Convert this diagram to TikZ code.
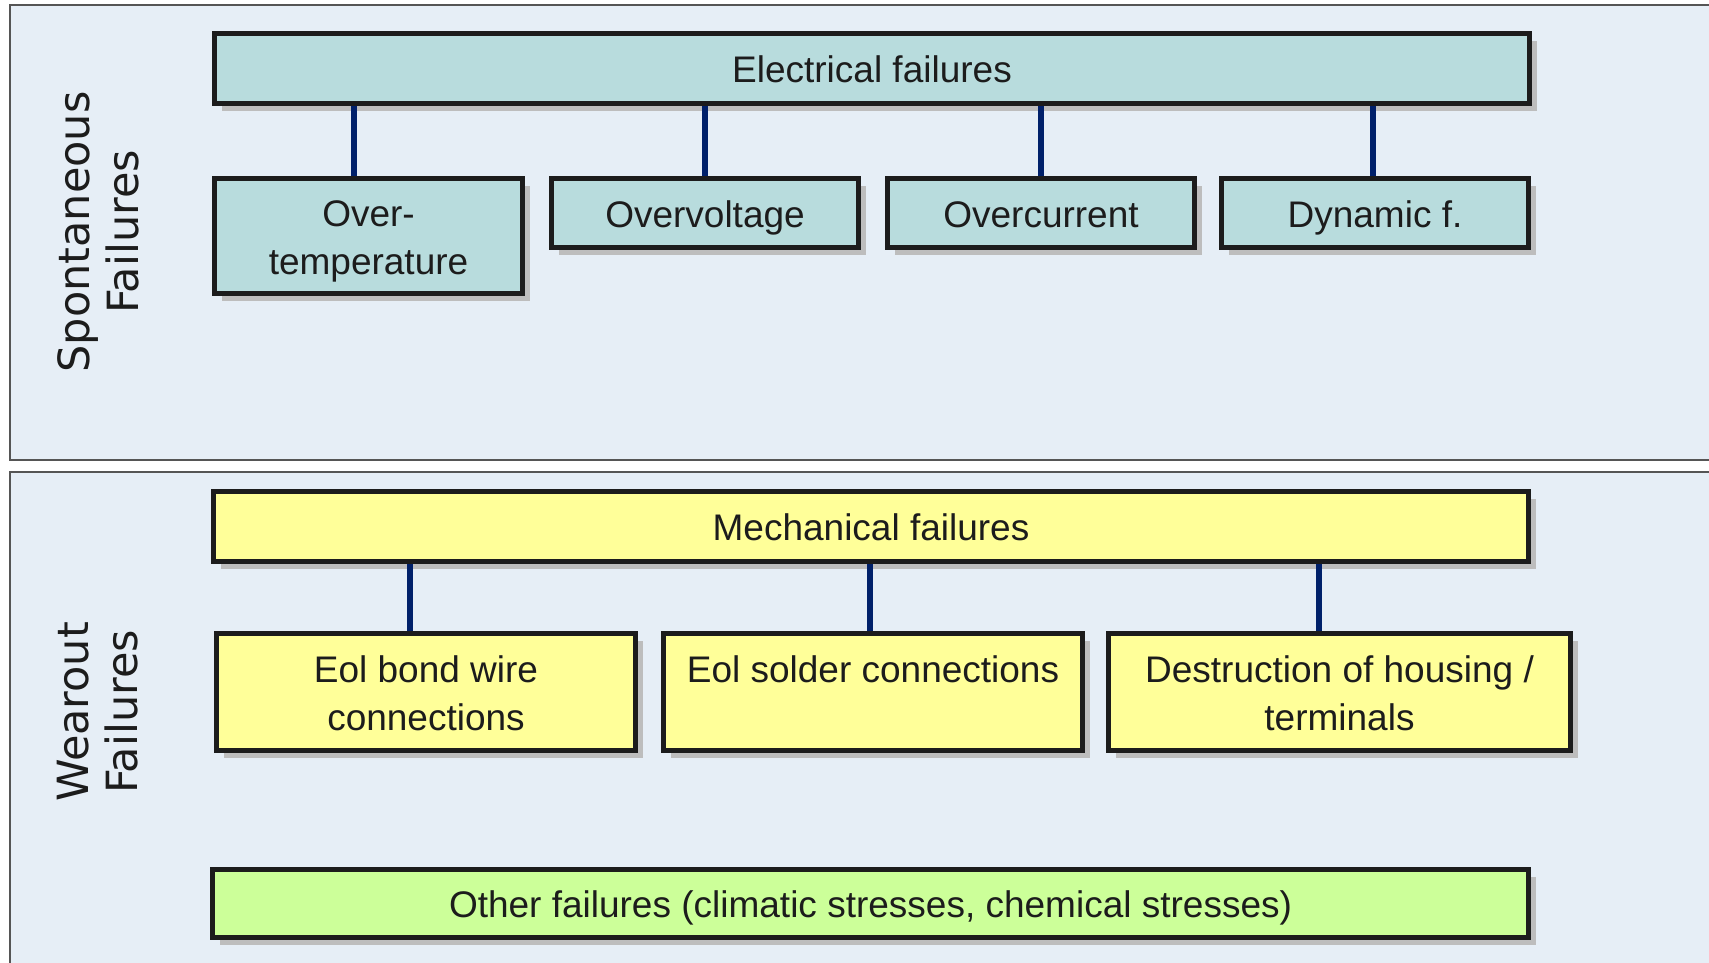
\documentclass[tikz,border=0pt]{standalone}
\usepackage{fontspec}
\setmainfont{Liberation Sans}
\newfontfamily\sidefont{DejaVu Sans}
\usetikzlibrary{shadows}
\newcommand\bstrut{\rule[-3.8pt]{0pt}{18.8pt}}
\definecolor{panelbg}{HTML}{E6EEF6}
\definecolor{panelline}{HTML}{555555}
\definecolor{tealfill}{HTML}{B8DCDD}
\definecolor{yelfill}{HTML}{FFFF99}
\definecolor{grnfill}{HTML}{CCFF99}
\definecolor{navy}{HTML}{00206A}
\definecolor{ink}{HTML}{1C1C1C}
\definecolor{shadowgray}{HTML}{BDBDBD}
\tikzset{
  fbox/.style={draw=ink, line width=2pt, inner sep=0pt, align=center, text=ink,
    font=\fontsize{14.8pt}{19.2pt}\selectfont,
    drop shadow={shadow xshift=3pt, shadow yshift=-3pt, fill=shadowgray, opacity=1}},
  elbox/.style={fbox, fill=tealfill},
  mebox/.style={fbox, fill=yelfill},
  otbox/.style={fbox, fill=grnfill},
  conn/.style={draw=navy, line width=2.2pt},
  panel/.style={draw=panelline, line width=0.8pt},
  sidelabel/.style={rotate=90, align=center, text=ink, inner sep=0pt,
    font=\sidefont\fontsize{17.2pt}{19.6pt}\selectfont}
}
\begin{document}
\begin{tikzpicture}[x=0.4pt,y=-0.4pt]
\useasboundingbox (0,0) rectangle (1709,962);
\fill[white] (0,0) rectangle (1709,962);
% panels
\fill[panelbg] (10,5) rectangle (1712,460);
\draw[panel] (1712,5) -- (10,5) -- (10,460) -- (1712,460);
\fill[panelbg] (10,472) rectangle (1712,965);
\draw[panel] (1712,472) -- (10,472) -- (10,965);
% side labels
\node[sidelabel] (spl) at (98,232) {Spontaneous\\Failures};
\node[sidelabel] (wol) at (98,712) {Wearout\\Failures};
% electrical
\node[elbox, minimum width=1315*0.4pt, minimum height=70*0.4pt] (elec) at (872,68.5) {\bstrut Electrical failures};
\node[elbox, minimum width=308*0.4pt, minimum height=115*0.4pt] (ot) at (368.5,236) {\bstrut Over-\\\bstrut temperature};
\node[elbox, minimum width=307*0.4pt, minimum height=69*0.4pt] (ov) at (705,213) {\bstrut Overvoltage};
\node[elbox, minimum width=307*0.4pt, minimum height=69*0.4pt] (oc) at (1041,213) {\bstrut Overcurrent};
\node[elbox, minimum width=307*0.4pt, minimum height=69*0.4pt] (dyn) at (1375,213) {\bstrut Dynamic f.};
\draw[conn] ([xshift=-5.8pt]ot.north) -- ([xshift=-5.8pt]ot.north |- elec.south);
\draw[conn] (ov.north) -- (ov.north |- elec.south);
\draw[conn] (oc.north) -- (oc.north |- elec.south);
\draw[conn] ([xshift=-0.8pt]dyn.north) -- ([xshift=-0.8pt]dyn.north |- elec.south);
% mechanical
\node[mebox, minimum width=1315*0.4pt, minimum height=70*0.4pt] (mech) at (871,526.5) {\bstrut Mechanical failures};
\node[mebox, minimum width=419*0.4pt, minimum height=117*0.4pt] (eb) at (426,692) {\bstrut Eol bond wire\\\bstrut connections};
\node[mebox, minimum width=419*0.4pt, minimum height=117*0.4pt] (es) at (873,692) {\bstrut Eol solder connections\\\bstrut};
\node[mebox, minimum width=462*0.4pt, minimum height=117*0.4pt] (de) at (1339.5,692) {\bstrut Destruction of housing /\\\bstrut terminals};
\draw[conn] ([xshift=-6.4pt]eb.north) -- ([xshift=-6.4pt]eb.north |- mech.south);
\draw[conn] ([xshift=-1.2pt]es.north) -- ([xshift=-1.2pt]es.north |- mech.south);
\draw[conn] ([xshift=-8.2pt]de.north) -- ([xshift=-8.2pt]de.north |- mech.south);
% other
\node[otbox, minimum width=1316*0.4pt, minimum height=68*0.4pt] (oth) at (870.5,903.5) {\bstrut Other failures (climatic stresses, chemical stresses)};
\end{tikzpicture}
\end{document}
